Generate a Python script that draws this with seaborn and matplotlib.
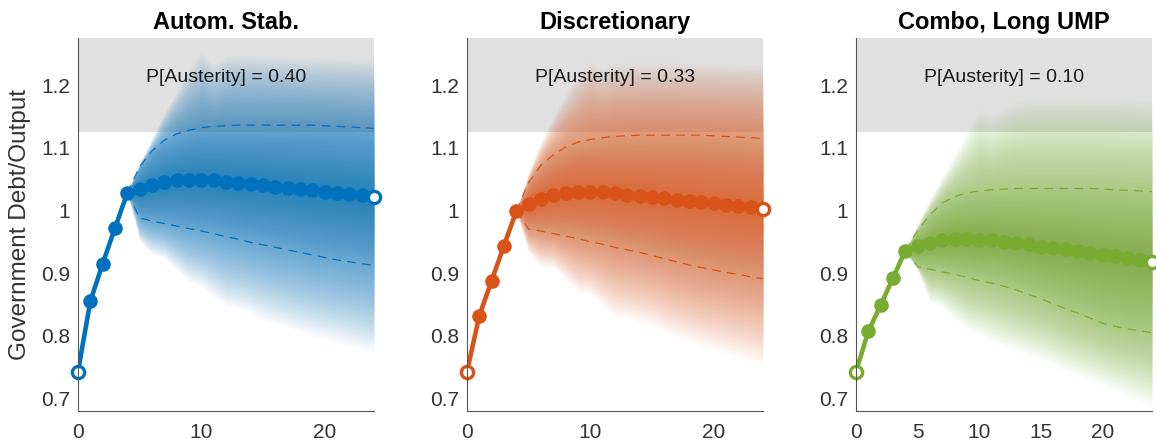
import numpy as np
import matplotlib
matplotlib.use("Agg")
import matplotlib.pyplot as plt
import seaborn as sns
import pandas as pd

# ---------------- data ----------------
periods = list(range(25))
fan_periods = list(range(4, 25))

titles = ["Autom. Stab.", "Discretionary", "Combo, Long UMP"]
austerity_labels = ["P[Austerity] = 0.40", "P[Austerity] = 0.33", "P[Austerity] = 0.10"]
austerity_threshold = 1.125
xticks_per_panel = [[0, 10, 20], [0, 10, 20], [0, 5, 10, 15, 20]]
yticks = [0.7, 0.8, 0.9, 1.0, 1.1, 1.2]
ytick_labels = ["0.7", "0.8", "0.9", "1", "1.1", "1.2"]

# median paths (periods 0..24)
autostab_median = [0.743, 0.855, 0.915, 0.972, 1.028, 1.034, 1.040, 1.045, 1.048, 1.049,
                   1.049, 1.048, 1.046, 1.044, 1.042, 1.040, 1.038, 1.036, 1.034, 1.032,
                   1.030, 1.028, 1.026, 1.024, 1.021]
discr_median = [0.743, 0.832, 0.888, 0.944, 0.999, 1.010, 1.018, 1.024, 1.028, 1.030,
                1.030, 1.029, 1.027, 1.025, 1.023, 1.021, 1.019, 1.017, 1.015, 1.013,
                1.011, 1.009, 1.007, 1.005, 1.002]
combo_median = [0.743, 0.807, 0.849, 0.892, 0.936, 0.943, 0.948, 0.952, 0.954, 0.954,
                0.953, 0.952, 0.950, 0.948, 0.946, 0.942, 0.940, 0.938, 0.935, 0.932,
                0.929, 0.927, 0.924, 0.921, 0.918]

# distribution bands (periods 4..24)
autostab_outer_hi = [1.028, 1.075, 1.115, 1.155, 1.190, 1.225, 1.252, 1.232, 1.246, 1.247,
                     1.247, 1.246, 1.245, 1.245, 1.244, 1.243, 1.243, 1.242, 1.241, 1.240, 1.239]
autostab_dash_hi = [1.028, 1.070, 1.095, 1.112, 1.122, 1.128, 1.132, 1.134, 1.135, 1.136,
                    1.136, 1.136, 1.136, 1.136, 1.136, 1.136, 1.135, 1.134, 1.133, 1.132, 1.131]
autostab_dash_lo = [1.028, 0.988, 0.983, 0.979, 0.975, 0.971, 0.967, 0.963, 0.958, 0.954,
                    0.949, 0.945, 0.941, 0.937, 0.933, 0.929, 0.925, 0.921, 0.918, 0.915, 0.912]
autostab_outer_lo = [1.028, 0.950, 0.930, 0.924, 0.905, 0.886, 0.879, 0.862, 0.847, 0.843,
                     0.836, 0.825, 0.819, 0.813, 0.806, 0.800, 0.795, 0.789, 0.784, 0.778, 0.773]

discr_outer_hi = [0.999, 1.060, 1.110, 1.150, 1.185, 1.215, 1.238, 1.226, 1.234, 1.235,
                  1.235, 1.235, 1.235, 1.235, 1.234, 1.234, 1.234, 1.233, 1.233, 1.232, 1.231]
discr_dash_hi = [0.999, 1.045, 1.072, 1.089, 1.101, 1.109, 1.113, 1.116, 1.118, 1.119,
                 1.120, 1.120, 1.120, 1.120, 1.120, 1.120, 1.119, 1.118, 1.117, 1.116, 1.115]
discr_dash_lo = [0.999, 0.970, 0.967, 0.963, 0.959, 0.955, 0.950, 0.946, 0.941, 0.937,
                 0.933, 0.928, 0.923, 0.918, 0.913, 0.909, 0.905, 0.901, 0.898, 0.894, 0.891]
discr_outer_lo = [0.999, 0.932, 0.911, 0.909, 0.890, 0.870, 0.866, 0.848, 0.831, 0.828,
                  0.822, 0.817, 0.806, 0.797, 0.790, 0.783, 0.778, 0.772, 0.766, 0.760, 0.754]

combo_outer_hi = [0.936, 0.978, 1.018, 1.055, 1.090, 1.125, 1.161, 1.150, 1.165, 1.174,
                  1.177, 1.178, 1.178, 1.178, 1.178, 1.178, 1.178, 1.178, 1.177, 1.176, 1.175]
combo_dash_hi = [0.936, 0.968, 0.993, 1.012, 1.022, 1.028, 1.031, 1.033, 1.034, 1.035,
                 1.035, 1.035, 1.035, 1.035, 1.035, 1.035, 1.034, 1.033, 1.032, 1.031, 1.030]
combo_dash_lo = [0.936, 0.910, 0.906, 0.902, 0.898, 0.893, 0.888, 0.884, 0.879, 0.873,
                 0.866, 0.859, 0.851, 0.843, 0.836, 0.828, 0.820, 0.815, 0.811, 0.808, 0.805]
combo_outer_lo = [0.936, 0.905, 0.853, 0.847, 0.828, 0.810, 0.802, 0.792, 0.783, 0.776,
                  0.768, 0.762, 0.753, 0.743, 0.736, 0.729, 0.721, 0.712, 0.704, 0.696, 0.688]

colors = ["#0072BD", "#D95319", "#77AC30"]

panels = [
    (autostab_median, autostab_outer_lo, autostab_dash_lo, autostab_dash_hi, autostab_outer_hi),
    (discr_median, discr_outer_lo, discr_dash_lo, discr_dash_hi, discr_outer_hi),
    (combo_median, combo_outer_lo, combo_dash_lo, combo_dash_hi, combo_outer_hi),
]

# ---------------- style ----------------
sns.set_style("white")
plt.rcParams["font.family"] = ["Liberation Sans", "DejaVu Sans"]
text_gray = "#333333"

fig = plt.figure(figsize=(11.56, 4.48), dpi=100)
W, H = 1156.0, 448.0
lefts = [78, 467, 856]
ax_w = 296
ax_top, ax_bot = 38, 411


def draw_fan(ax, x, lo, dlo, med, dhi, hi, color, n=64, a=0.022):
    x = np.asarray(x, float)
    lo, dlo, med, dhi, hi = [np.asarray(v, float) for v in (lo, dlo, med, dhi, hi)]
    for k in range(n):
        s = k / n
        if s < 0.5:
            f = 2 * s
            b_lo = lo + (dlo - lo) * f
            b_hi = hi + (dhi - hi) * f
        else:
            f = 2 * s - 1
            b_lo = dlo + (med - dlo) * f
            b_hi = dhi + (med - dhi) * f
        ax.fill_between(x, b_lo, b_hi, color=color, alpha=a, lw=0, zorder=2)


for i, (med, olo, dlo, dhi, ohi) in enumerate(panels):
    c = colors[i]
    ax = fig.add_axes([lefts[i] / W, 1 - ax_bot / H, ax_w / W, (ax_bot - ax_top) / H])
    ax.set_xlim(0, 24)
    ax.set_ylim(0.68, 1.275)

    # austerity region
    ax.axhspan(austerity_threshold, 1.3, color="#e0e0e0", lw=0, zorder=1)

    med_fan = med[4:]
    draw_fan(ax, fan_periods, olo, dlo, med_fan, dhi, ohi, c)

    df_dash = pd.DataFrame({"t": fan_periods, "lo": dlo, "hi": dhi})
    for col in ("lo", "hi"):
        sns.lineplot(data=df_dash, x="t", y=col, ax=ax, color=c, lw=0.9,
                     dashes=False, zorder=3)
        ax.lines[-1].set_dashes((7, 5))

    df_med = pd.DataFrame({"t": periods, "v": med})
    sns.lineplot(data=df_med, x="t", y="v", ax=ax, color=c, lw=3.3, zorder=4)
    inner = df_med.iloc[1:-1]
    ax.plot(inner["t"], inner["v"], "o", color=c, ms=10.5, mec=c, mew=0, zorder=5,
            clip_on=False)
    ends = df_med.iloc[[0, -1]]
    ax.plot(ends["t"], ends["v"], "o", mfc="white", mec=c, ms=8.8, mew=2.4,
            zorder=6, clip_on=False)

    ax.text(12, 1.212, austerity_labels[i], ha="center", va="center", fontsize=14,
            color="#1a1a1a", zorder=7)

    ax.set_title(titles[i], fontsize=17, fontweight="bold", pad=6.5, color="black")
    ax.set_xticks(xticks_per_panel[i])
    ax.set_yticks(yticks)
    ax.set_yticklabels(ytick_labels)
    ax.set_xlabel("")
    ax.set_ylabel("")
    ax.tick_params(axis="both", direction="in", length=3.5, width=0.8, labelsize=15,
                   colors="#555555", labelcolor=text_gray)
    ax.tick_params(axis="y", pad=5.5)
    ax.tick_params(axis="x", pad=8.5)
    for sp in ("top", "right"):
        ax.spines[sp].set_visible(False)
    for sp in ("left", "bottom"):
        ax.spines[sp].set_linewidth(0.8)
        ax.spines[sp].set_color("#555555")
        ax.spines[sp].set_zorder(8)
    if i == 0:
        ax.set_ylabel("Government Debt/Output", fontsize=17.5, color=text_gray)
        ax.yaxis.set_label_coords(-0.16, 0.5)

fig.savefig("out.png", dpi=100)
